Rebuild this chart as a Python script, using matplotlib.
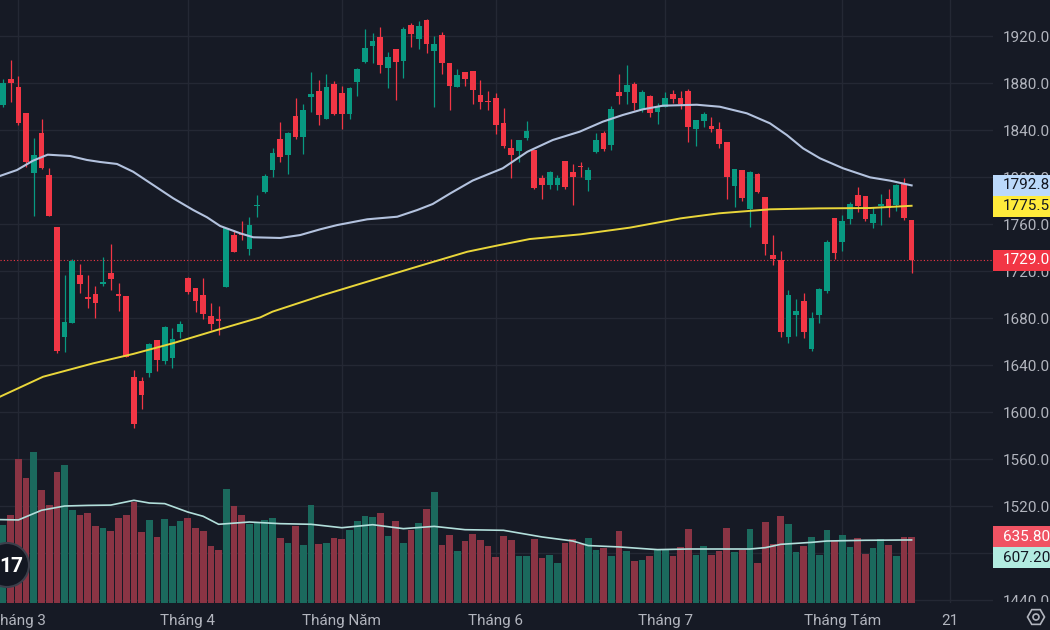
import numpy as np
import matplotlib
matplotlib.use('Agg')
import matplotlib.pyplot as plt
from matplotlib.patches import Rectangle, Circle, RegularPolygon

plt.rcParams['font.family'] = ['Roboto', 'DejaVu Sans']

# daily candles, one per trading session (index 0 .. 118)
opens = [1861.3, 1883.4, 1876.3, 1854.5, 1803.1, 1837.7, 1801.4, 1757.4, 1663.8, 1675.4,
         1716.6, 1698.2, 1700.7, 1709.2, 1718.3, 1700.1, 1698.7, 1629.5, 1626.4, 1633.5,
         1661.2, 1643.4, 1645.6, 1668.4, 1713.7, 1705.8, 1699.8, 1681.7, 1678.8, 1706.1,
         1750.6, 1751.2, 1738.4, 1775.0, 1786.9, 1806.0, 1832.3, 1819.0, 1852.2, 1834.3,
         1868.4, 1873.5, 1849.6, 1879.1, 1871.2, 1853.3, 1881.1, 1897.6, 1911.8, 1918.9,
         1893.0, 1908.6, 1899.0, 1929.1, 1917.2, 1933.6, 1907.5, 1920.6, 1897.3, 1876.6,
         1889.1, 1889.9, 1869.5, 1864.7, 1867.5, 1845.7, 1824.4, 1821.8, 1832.9, 1822.7,
         1798.9, 1792.9, 1792.9, 1813.6, 1804.0, 1809.1, 1797.1, 1821.6, 1837.7, 1826.9,
         1872.6, 1872.6, 1879.1, 1857.0, 1868.9, 1855.6, 1859.9, 1870.4, 1867.5, 1873.5,
         1840.8, 1847.4, 1843.4, 1840.6, 1829.5, 1792.6, 1806.0, 1772.5, 1802.3, 1782.7,
         1733.6, 1729.4, 1664.1, 1682.6, 1694.7, 1653.3, 1682.3, 1703.0, 1764.8, 1744.7,
         1764.3, 1785.0, 1784.1, 1761.1, 1775.6, 1781.3, 1776.2, 1794.0, 1763.4]
highs = [1883.0, 1899.6, 1886.0, 1854.5, 1833.5, 1849.4, 1808.0, 1757.4, 1716.6, 1729.9,
         1725.6, 1716.6, 1707.2, 1731.9, 1743.0, 1709.5, 1698.7, 1635.7, 1630.0, 1659.0,
         1661.2, 1673.2, 1671.2, 1677.4, 1715.2, 1705.8, 1713.7, 1692.5, 1690.2, 1757.0,
         1754.9, 1762.6, 1765.7, 1784.7, 1802.3, 1824.4, 1846.5, 1838.3, 1866.9, 1861.8,
         1889.4, 1882.5, 1887.9, 1881.7, 1877.2, 1876.3, 1892.5, 1925.7, 1922.3, 1927.4,
         1906.7, 1908.6, 1927.9, 1930.8, 1933.0, 1934.2, 1920.0, 1923.4, 1897.3, 1891.6,
         1889.1, 1889.9, 1882.5, 1873.5, 1871.2, 1859.0, 1832.0, 1831.8, 1847.6, 1822.7,
         1801.7, 1805.1, 1802.0, 1813.6, 1811.1, 1812.5, 1808.5, 1837.2, 1839.1, 1860.4,
         1887.6, 1895.3, 1881.1, 1874.0, 1869.8, 1863.2, 1872.0, 1874.0, 1873.5, 1874.6,
         1848.5, 1855.6, 1850.8, 1846.5, 1829.5, 1806.8, 1806.0, 1805.1, 1803.4, 1783.3,
         1750.6, 1737.3, 1703.8, 1696.2, 1701.0, 1685.4, 1705.2, 1746.4, 1764.8, 1767.6,
         1779.0, 1791.2, 1784.1, 1774.7, 1785.5, 1789.8, 1794.0, 1798.9, 1763.4]
lows = [1859.9, 1864.1, 1844.2, 1808.8, 1767.1, 1806.5, 1767.1, 1650.5, 1651.4, 1675.4,
        1701.6, 1688.8, 1680.3, 1707.5, 1703.8, 1686.2, 1647.1, 1586.6, 1602.5, 1630.0,
        1634.9, 1640.6, 1637.7, 1663.2, 1700.1, 1684.8, 1679.1, 1669.8, 1665.5, 1706.1,
        1735.9, 1746.4, 1733.6, 1765.7, 1786.6, 1799.7, 1812.5, 1802.8, 1832.0, 1819.8,
        1855.3, 1844.2, 1849.6, 1852.8, 1840.6, 1849.6, 1869.2, 1897.3, 1897.3, 1888.8,
        1876.0, 1865.5, 1884.5, 1910.9, 1909.2, 1905.2, 1859.9, 1887.6, 1857.0, 1876.3,
        1877.4, 1861.8, 1857.6, 1857.0, 1836.6, 1825.0, 1798.9, 1813.0, 1831.2, 1789.8,
        1781.0, 1790.1, 1789.2, 1789.5, 1776.2, 1800.3, 1788.4, 1820.7, 1822.4, 1823.3,
        1862.4, 1862.4, 1857.0, 1855.6, 1851.3, 1845.4, 1859.3, 1862.7, 1857.6, 1830.1,
        1826.4, 1842.8, 1838.6, 1825.0, 1781.6, 1774.7, 1779.9, 1757.7, 1786.1, 1733.6,
        1725.1, 1664.1, 1659.0, 1664.6, 1663.2, 1651.9, 1675.4, 1701.6, 1730.2, 1737.3,
        1760.0, 1770.5, 1762.8, 1756.3, 1759.1, 1766.2, 1771.3, 1763.4, 1718.0]
closes = [1880.3, 1880.3, 1845.9, 1813.0, 1818.7, 1808.0, 1767.1, 1652.2, 1676.6, 1728.5,
          1708.9, 1695.9, 1693.0, 1710.3, 1713.5, 1699.0, 1647.1, 1590.1, 1614.5, 1657.9,
          1644.2, 1672.3, 1661.8, 1674.6, 1702.4, 1694.4, 1683.7, 1674.9, 1677.7, 1756.3,
          1735.9, 1750.3, 1759.1, 1776.2, 1800.8, 1820.1, 1817.0, 1837.4, 1833.8, 1857.3,
          1870.4, 1853.0, 1876.3, 1853.9, 1853.9, 1875.5, 1891.6, 1909.5, 1915.5, 1895.3,
          1901.8, 1898.1, 1925.7, 1922.0, 1928.5, 1913.2, 1913.2, 1897.3, 1877.4, 1886.5,
          1883.7, 1874.3, 1863.5, 1863.8, 1844.2, 1826.4, 1819.0, 1831.8, 1839.1, 1790.3,
          1792.9, 1804.3, 1798.9, 1791.8, 1799.7, 1808.2, 1806.2, 1831.2, 1823.8, 1858.1,
          1869.2, 1878.3, 1862.7, 1872.6, 1854.7, 1859.9, 1867.5, 1866.4, 1861.8, 1842.8,
          1848.5, 1853.3, 1840.8, 1828.4, 1800.3, 1806.8, 1781.8, 1804.3, 1786.9, 1743.0,
          1730.2, 1668.4, 1699.6, 1685.9, 1668.4, 1680.3, 1704.4, 1744.7, 1735.0, 1762.6,
          1777.0, 1775.6, 1764.3, 1768.5, 1777.0, 1773.3, 1793.2, 1764.8, 1729.0]
volumes = [748, 851, 1390, 1204, 1451, 1088, 941, 1262, 1326, 893,
           851, 867, 742, 719, 693, 816, 851, 976, 684, 796,
           636, 809, 742, 787, 816, 726, 693, 553, 514, 1102,
           931, 851, 758, 770, 796, 816, 626, 578, 742, 562,
           941, 568, 578, 626, 613, 700, 787, 841, 832, 867,
           642, 793, 578, 707, 768, 902, 1066, 562, 652, 498,
           594, 668, 604, 553, 440, 642, 604, 453, 450, 613,
           433, 462, 382, 578, 620, 568, 629, 507, 533, 450,
           693, 498, 404, 414, 450, 507, 507, 456, 536, 710,
           462, 553, 462, 498, 726, 488, 514, 710, 389, 784,
           568, 841, 758, 494, 546, 636, 462, 700, 604, 652,
           536, 626, 472, 527, 620, 556, 453, 636, 635.8]

ma_fast_idx = [-0.4, 1.8, 3.9, 5.8, 8.7, 10.9, 12.6, 14.8, 16.9, 19.5, 22.1, 24.7, 26.5,
               28.2, 30.8, 32.5, 36.0, 38.6, 41.2, 43.4, 47.3, 51.2, 53.8, 55.8, 58.1,
               61.0, 64.9, 68.1, 71.4, 74.9, 77.9, 80.5, 83.1, 85.7, 90.1, 93.1, 96.6,
               99.6, 101.8, 103.9, 106.1, 109.1, 112.6, 115.2, 118.0]
ma_fast = [1800.9, 1805.9, 1813.9, 1819.0, 1817.9, 1814.5, 1812.8, 1811.1, 1804.5, 1793.2,
           1781.9, 1771.9, 1765.7, 1758.3, 1752.1, 1748.7, 1748.1, 1750.6, 1755.5, 1759.1,
           1764.0, 1766.2, 1771.9, 1777.0, 1786.1, 1797.0, 1807.4, 1821.5, 1831.5, 1838.6,
           1847.1, 1852.8, 1857.6, 1860.7, 1861.5, 1859.8, 1854.2, 1845.7, 1835.7, 1824.4,
           1815.9, 1807.4, 1799.7, 1796.9, 1792.85]
ma_slow_idx = [-0.4, 5.2, 11.7, 16.9, 22.0, 27.8, 33.4, 35.0, 41.6, 48.0, 54.5, 60.3, 64.5,
               68.4, 75.0, 81.4, 88.0, 93.0, 99.6, 106.0, 112.6, 118.0]
ma_slow = [1613.0, 1630.0, 1641.4, 1649.4, 1658.4, 1669.8, 1680.5, 1685.4, 1699.6, 1712.3,
           1725.1, 1736.4, 1742.1, 1747.2, 1751.2, 1756.9, 1764.8, 1769.1, 1772.5,
           1773.3, 1773.6, 1775.52]
vol_ma_idx = [-0.4, 2, 5, 8, 11, 14, 17, 19, 21, 24, 26, 28, 32, 36, 40, 44, 48, 52, 56, 60,
              65, 70, 74, 76, 80, 85, 89, 97, 99, 101, 105, 107, 112, 118]
vol_ma = [803, 800, 893, 934, 940, 943, 989, 963, 957, 876, 835, 758, 780, 764, 758, 725,
          754, 716, 738, 706, 700, 636, 597, 553, 540, 514, 520, 520, 533, 565, 584, 597,
          604, 607.2]

month_pos = [2, 24, 44, 64, 86, 109, 123]
month_labels = ['Tháng 3', 'Tháng 4', 'Tháng Năm', 'Tháng 6', 'Tháng 7', 'Tháng Tám', '21']
price_ticks = [1440, 1480, 1520, 1560, 1600, 1640, 1680, 1720, 1760, 1800, 1840, 1880, 1920]

BG = '#161a25'
GRID = '#242834'
UP = '#089981'
DOWN = '#f23645'
UP_VOL = '#1b695d'
DOWN_VOL = '#8a3444'
TXT = '#b2b5be'
FS = 11

W, H = 1050, 630
fig = plt.figure(figsize=(W / 100, H / 100), dpi=100)
fig.patch.set_facecolor(BG)
ax = fig.add_axes([0, 27 / H, 993 / W, 603 / H])
ax.set_facecolor(BG)

o = np.array(opens)
h = np.array(highs)
l = np.array(lows)
c = np.array(closes)
x = np.arange(len(o))
up = c >= o
cols = np.where(up, UP, DOWN)

ax.set_xlim(-0.39, 128.57)
ax.set_ylim(1437.45, 1950.64)

# volume overlay on its own scale
axv = ax.twinx()
axv.set_ylim(0, 5807)
axv.bar(x, volumes, width=0.86, color=np.where(up, UP_VOL, DOWN_VOL), zorder=1)
axv.plot(vol_ma_idx, vol_ma, color='#b2dfdb', lw=1.2, zorder=2)
axv.set_yticks([])
for s in axv.spines.values():
    s.set_visible(False)

# candles
ax.vlines(x, l, h, colors=cols, lw=0.9, zorder=3)
body = np.maximum(np.abs(c - o), 0.9)
ax.bar(x, body, bottom=np.minimum(o, c), width=0.74, color=cols, zorder=4)

ax.plot(ma_fast_idx, ma_fast, color='#b3c2de', lw=1.5, zorder=5, solid_joinstyle='round')
ax.plot(ma_slow_idx, ma_slow, color='#e9d63a', lw=1.4, zorder=5, solid_joinstyle='round')
ax.axhline(closes[-1], color=DOWN, lw=0.8, ls=(0, (1, 2)), zorder=2)

ax.set_yticks(price_ticks)
ax.set_yticklabels([f'{v:.2f}' for v in price_ticks])
ax.yaxis.tick_right()
ax.set_xticks(month_pos)
ax.set_xticklabels(month_labels)
ax.tick_params(axis='y', length=0, pad=7, labelcolor=TXT, labelsize=FS)
ax.tick_params(axis='x', length=0, pad=8, labelcolor=TXT, labelsize=FS)
ax.grid(True, color=GRID, lw=1)
ax.set_axisbelow(True)
for s in ax.spines.values():
    s.set_visible(False)

# cover the price scale below the pane so the last label is clipped
fig.add_artist(Rectangle((993 / W, 0), 57 / W, 28 / H, transform=fig.transFigure,
                         facecolor=BG, edgecolor='none', zorder=10))


# last-value labels on the price scale, pushed apart when they collide
def place_labels(items, axis):
    prev = None
    for val, txt, fc, tc in items:
        yv = axis.transData.transform((0, val))[1]
        if prev is not None and prev - yv < 21:
            yv = prev - 21
        prev = yv
        fig.add_artist(Rectangle((993 / W, (yv - 10.5) / H), 60 / W, 21 / H,
                                 transform=fig.transFigure, facecolor=fc,
                                 edgecolor='none', zorder=11))
        fig.text(1003 / W, yv / H, txt, color=tc, fontsize=FS, va='center',
                 ha='left', zorder=12)


place_labels([(ma_fast[-1], f'{ma_fast[-1]:.2f}', '#bbd9fb', '#131722'),
              (ma_slow[-1], f'{ma_slow[-1]:.2f}', '#ffeb3b', '#131722'),
              (closes[-1], f'{closes[-1]:.2f}', DOWN, 'white')], ax)
place_labels([(volumes[-1], f'{volumes[-1]:.2f}', '#f05363', 'white'),
              (vol_ma[-1], f'{vol_ma[-1]:.2f}', '#b2ebe0', '#131722')], axv)

# logo badge and settings icon
fig.add_artist(Circle((0.07, 0.65), 0.22, transform=fig.dpi_scale_trans,
                      facecolor='#131722', edgecolor='#3b3f4b', lw=1.5, zorder=11))
fig.text(11 / W, (H - 566) / H, '17', color='white', fontsize=15, fontweight='bold',
         ha='center', va='center', zorder=12)
fig.add_artist(RegularPolygon((10.36, 0.13), 6, radius=0.085, orientation=np.pi / 6,
                              transform=fig.dpi_scale_trans, facecolor='none',
                              edgecolor=TXT, lw=1.2, zorder=12))
fig.add_artist(Circle((10.36, 0.13), 0.03, transform=fig.dpi_scale_trans,
                      facecolor='none', edgecolor=TXT, lw=1.2, zorder=12))

fig.savefig('out.png', dpi=100, facecolor=BG)
